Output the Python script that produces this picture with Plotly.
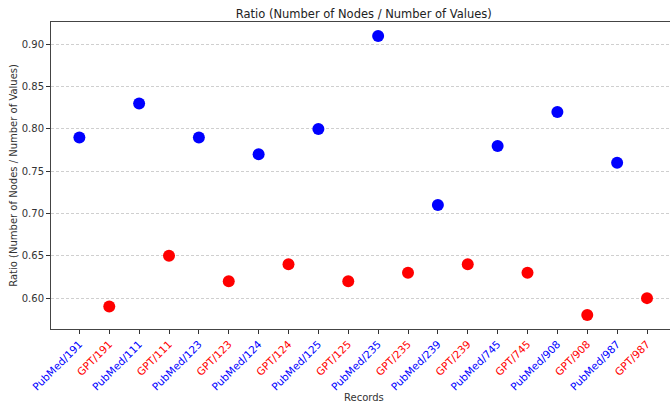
import plotly.graph_objects as go

records = ["PubMed/191", "GPT/191", "PubMed/111", "GPT/111", "PubMed/123", "GPT/123",
           "PubMed/124", "GPT/124", "PubMed/125", "GPT/125", "PubMed/235", "GPT/235",
           "PubMed/239", "GPT/239", "PubMed/745", "GPT/745", "PubMed/908", "GPT/908",
           "PubMed/987", "GPT/987"]
ratios = [0.79, 0.59, 0.83, 0.65, 0.79, 0.62, 0.77, 0.64, 0.80, 0.62,
          0.91, 0.63, 0.71, 0.64, 0.78, 0.63, 0.82, 0.58, 0.76, 0.60]

colors = ["blue" if r.startswith("PubMed") else "red" for r in records]
positions = list(range(len(records)))
tick_text = [f'<span style="color:{c}">{r}</span>' for r, c in zip(records, colors)]

fig = go.Figure()
fig.add_trace(go.Scatter(
    x=positions, y=ratios, mode="markers",
    marker=dict(color=colors, size=12, line=dict(width=0)),
    showlegend=False,
))

fig.update_layout(
    width=670, height=405,
    margin=dict(l=51, r=0, t=22, b=76),
    paper_bgcolor="white", plot_bgcolor="white",
    font=dict(family="DejaVu Sans", size=10, color="#333333"),
    title=dict(text="Ratio (Number of Nodes / Number of Values)",
               xref="container", x=0.543, xanchor="center",
               yref="container", y=0.975, yanchor="top",
               font=dict(size=11.5, color="#222222")),
    annotations=[
        dict(text="Records", xref="paper", yref="paper", x=0.506, y=-0.2,
             xanchor="center", yanchor="top", showarrow=False, font=dict(size=10)),
        dict(text="Ratio (Number of Nodes / Number of Values)", xref="paper", yref="paper",
             x=-0.061, y=0.5, xanchor="center", yanchor="middle", textangle=-90,
             showarrow=False, font=dict(size=10)),
    ],
)
fig.update_xaxes(
    range=[-0.95, 19.77], tickmode="array", tickvals=positions, ticktext=tick_text,
    tickangle=-45, ticks="outside", ticklen=4, tickcolor="#333333",
    tickfont=dict(size=10.5),
    showline=True, linecolor="#444444", linewidth=1, mirror=True,
    showgrid=False, zeroline=False, automargin=False,
)
fig.update_yaxes(
    range=[0.5635, 0.9265], tickvals=[0.60, 0.65, 0.70, 0.75, 0.80, 0.85, 0.90],
    tickformat=".2f", ticks="outside", ticklen=4, tickcolor="#333333",
    showline=True, linecolor="#444444", linewidth=1, mirror=False,
    showgrid=True, gridcolor="#cfcfcf", griddash="3px,2px", gridwidth=0.8,
    zeroline=False, automargin=False,
)

fig.write_html("out.html", config={"displayModeBar": False},
               post_script="document.body.style.margin='0';document.body.style.overflow='hidden';")
